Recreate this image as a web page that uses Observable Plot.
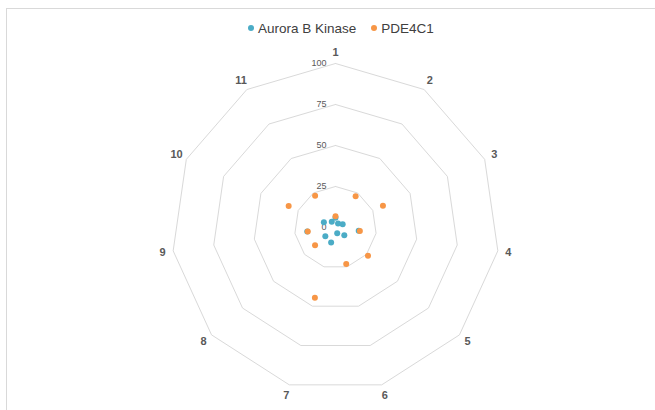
<!DOCTYPE html>
<html>
<head>
<meta charset="utf-8">
<script src="https://cdn.jsdelivr.net/npm/d3@7"></script>
<script src="https://cdn.jsdelivr.net/npm/@observablehq/plot@0.6"></script>
<style>
  html, body { margin: 0; padding: 0; background: #fff; overflow: hidden; }
  #wrap { position: relative; width: 655px; height: 410px; overflow: hidden; font-family: "Liberation Sans", Arial, sans-serif; }
  #frame { position: absolute; left: 6px; top: 8px; width: 720px; height: 480px; border: 1px solid #d9d9d9; box-sizing: border-box; }
  #legend { position: absolute; left: 248px; top: 18px; height: 20px; display: flex; align-items: center; font-size: 13.5px; color: #404040; white-space: nowrap; }
  #legend .item { display: flex; align-items: center; margin-right: 15px; }
  #legend .sw { width: 6px; height: 6px; border-radius: 50%; margin-right: 4px; display: inline-block; }
  #chart { position: absolute; left: 0; top: 40px; }
</style>
</head>
<body>
<div id="wrap">
  <div id="frame"></div>
  <div id="legend"></div>
  <div id="chart"></div>
</div>
<script>
const axes = ["1", "2", "3", "4", "5", "6", "7", "8", "9", "10", "11"];
const aurora = [5.9, 2.9, 4.8, 14.3, 7.1, 3.7, 9.5, 8.2, 17.4, 7.8, 4.2];
const pde4c1 = [6.9, 22.7, 31.8, 15.0, 26.2, 23.2, 44.6, 16.5, 17.1, 31.4, 23.0];
const levels = [25, 50, 75, 100];
const levelLabels = [0, 25, 50, 75, 100];
const seriesNames = ["Aurora B Kinase", "PDE4C1"];
const seriesColors = ["#4bacc6", "#f79646"];

const n = axes.length;
const ang = i => i * 2 * Math.PI / n;
const px = (i, r) => r * Math.sin(ang(i));
const py = (i, r) => r * Math.cos(ang(i));

const gridData = levels.flatMap(l => d3.range(n + 1).map(k => ({level: l, i: k % n})));
const seriesValues = [aurora, pde4c1];
const points = seriesNames.flatMap((s, k) => seriesValues[k].map((v, i) => ({series: s, i, v})));
const axisData = axes.map((a, i) => ({label: a, i}));

// legend
const legend = document.getElementById("legend");
seriesNames.forEach((s, k) => {
  const item = document.createElement("span");
  item.className = "item";
  const sw = document.createElement("span");
  sw.className = "sw";
  sw.style.background = seriesColors[k];
  item.appendChild(sw);
  item.appendChild(document.createTextNode(s));
  legend.appendChild(item);
});

const cx = 335, cy = 187, R = 164;
const chart = Plot.plot({
  width: 655,
  height: 370,
  margin: 0,
  style: {background: "transparent", fontFamily: "Liberation Sans, Arial, sans-serif"},
  x: {domain: [-100, 100], range: [cx - R, cx + R], axis: null},
  y: {domain: [-100, 100], range: [cy + R, cy - R], axis: null},
  color: {domain: seriesNames, range: seriesColors},
  marks: [
    Plot.line(gridData, {
      x: d => px(d.i, d.level),
      y: d => py(d.i, d.level),
      z: "level",
      stroke: "#d9d9d9",
      strokeWidth: 1
    }),
    Plot.text(levelLabels, {
      x: d => 0,
      y: d => d,
      text: d => String(d),
      textAnchor: "end",
      dx: -9,
      fontSize: 9,
      fill: "#595959"
    }),
    Plot.text(axisData, {
      x: d => px(d.i, 106.5),
      y: d => py(d.i, 106.5),
      text: "label",
      fontSize: 11,
      fontWeight: "bold",
      fill: "#595959"
    }),
    Plot.dot(points, {
      x: d => px(d.i, d.v),
      y: d => py(d.i, d.v),
      fill: "series",
      r: 3,
      stroke: "none"
    })
  ]
});
document.getElementById("chart").appendChild(chart);
</script>
</body>
</html>
